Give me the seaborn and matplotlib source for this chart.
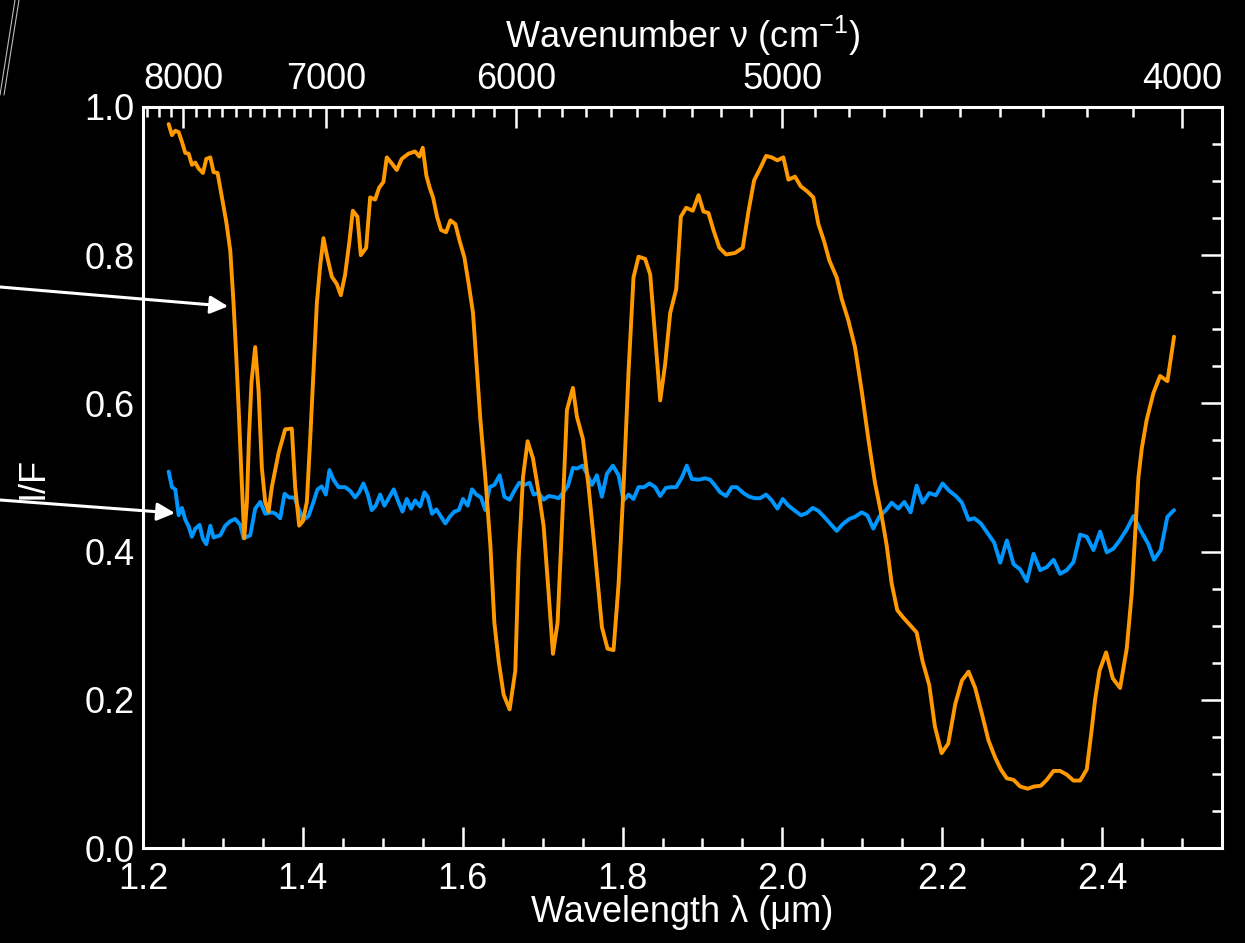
"""
Near-IR reflectance spectra (I/F) with a wavenumber axis on top.
"""

import numpy as np
import matplotlib
matplotlib.use("Agg")
import matplotlib.pyplot as plt
import seaborn as sns
from matplotlib.lines import Line2D

# ---- data ----
orange_wl = [1.2321, 1.2362, 1.2404, 1.2446, 1.2487, 1.2529, 1.2571, 1.2612, 1.2654, 1.2696,
             1.2750, 1.2792, 1.2842, 1.2883, 1.2933, 1.2988, 1.3042, 1.3092, 1.3133, 1.3167,
             1.3200, 1.3233, 1.3267, 1.3300, 1.3325, 1.3358, 1.3404, 1.3446, 1.3487, 1.3529,
             1.3571, 1.3612, 1.3696, 1.3779, 1.3862, 1.3904, 1.3954, 1.4000, 1.4050, 1.4092,
             1.4133, 1.4175, 1.4217, 1.4258, 1.4300, 1.4362, 1.4425, 1.4475, 1.4529, 1.4583,
             1.4625, 1.4683, 1.4725, 1.4792, 1.4842, 1.4904, 1.4954, 1.5008, 1.5050, 1.5112,
             1.5175, 1.5237, 1.5321, 1.5404, 1.5458, 1.5500, 1.5546, 1.5587, 1.5629, 1.5679,
             1.5729, 1.5792, 1.5846, 1.5908, 1.5962, 1.6021, 1.6075, 1.6129, 1.6171, 1.6221,
             1.6283, 1.6346, 1.6396, 1.6450, 1.6512, 1.6587, 1.6658, 1.6700, 1.6754, 1.6812,
             1.6879, 1.6950, 1.7012, 1.7075, 1.7129, 1.7187, 1.7242, 1.7304, 1.7379, 1.7429,
             1.7504, 1.7575, 1.7646, 1.7742, 1.7812, 1.7887, 1.7950, 1.8012, 1.8075, 1.8137,
             1.8200, 1.8283, 1.8346, 1.8408, 1.8471, 1.8533, 1.8596, 1.8671, 1.8729, 1.8796,
             1.8879, 1.8950, 1.9012, 1.9075, 1.9137, 1.9212, 1.9296, 1.9408, 1.9504, 1.9575,
             1.9646, 1.9721, 1.9796, 1.9867, 1.9937, 2.0012, 2.0075, 2.0158, 2.0229, 2.0312,
             2.0387, 2.0450, 2.0521, 2.0587, 2.0679, 2.0742, 2.0825, 2.0908, 2.0992, 2.1075,
             2.1158, 2.1242, 2.1304, 2.1367, 2.1437, 2.1512, 2.1596, 2.1679, 2.1754, 2.1837,
             2.1908, 2.1992, 2.2075, 2.2162, 2.2246, 2.2329, 2.2412, 2.2496, 2.2579, 2.2662,
             2.2733, 2.2808, 2.2892, 2.2975, 2.3067, 2.3150, 2.3233, 2.3308, 2.3392, 2.3475,
             2.3558, 2.3642, 2.3725, 2.3808, 2.3871, 2.3912, 2.3967, 2.4050, 2.4133, 2.4225,
             2.4308, 2.4371, 2.4412, 2.4454, 2.4496, 2.4558, 2.4642, 2.4725, 2.4817, 2.4900]
orange_if = [0.977, 0.962, 0.968, 0.966, 0.953, 0.938, 0.937, 0.922, 0.925, 0.917,
             0.911, 0.930, 0.932, 0.912, 0.911, 0.878, 0.845, 0.806, 0.735, 0.663,
             0.585, 0.500, 0.418, 0.467, 0.552, 0.630, 0.676, 0.617, 0.513, 0.467,
             0.454, 0.487, 0.533, 0.565, 0.566, 0.487, 0.435, 0.441, 0.467, 0.552,
             0.643, 0.735, 0.786, 0.823, 0.800, 0.771, 0.761, 0.746, 0.774, 0.819,
             0.860, 0.852, 0.800, 0.810, 0.878, 0.875, 0.891, 0.899, 0.932, 0.924,
             0.915, 0.930, 0.937, 0.940, 0.933, 0.945, 0.907, 0.891, 0.878, 0.852,
             0.834, 0.831, 0.847, 0.842, 0.819, 0.797, 0.761, 0.722, 0.656, 0.578,
             0.500, 0.409, 0.304, 0.252, 0.207, 0.187, 0.239, 0.389, 0.500, 0.549,
             0.526, 0.480, 0.435, 0.344, 0.262, 0.304, 0.435, 0.591, 0.621, 0.582,
             0.552, 0.487, 0.409, 0.298, 0.269, 0.267, 0.356, 0.487, 0.643, 0.770,
             0.798, 0.795, 0.774, 0.689, 0.604, 0.653, 0.722, 0.754, 0.852, 0.864,
             0.860, 0.881, 0.859, 0.857, 0.834, 0.810, 0.801, 0.803, 0.810, 0.859,
             0.901, 0.917, 0.934, 0.932, 0.928, 0.932, 0.902, 0.906, 0.893, 0.886,
             0.878, 0.842, 0.819, 0.793, 0.770, 0.741, 0.712, 0.676, 0.617, 0.552,
             0.493, 0.448, 0.409, 0.357, 0.321, 0.311, 0.301, 0.291, 0.252, 0.220,
             0.164, 0.128, 0.141, 0.194, 0.226, 0.238, 0.216, 0.181, 0.145, 0.122,
             0.106, 0.094, 0.092, 0.083, 0.080, 0.083, 0.084, 0.092, 0.104, 0.104,
             0.099, 0.091, 0.091, 0.106, 0.161, 0.200, 0.239, 0.264, 0.229, 0.216,
             0.269, 0.344, 0.422, 0.500, 0.539, 0.578, 0.614, 0.637, 0.630, 0.690]

blue_wl = [1.2321, 1.2362, 1.2404, 1.2446, 1.2487, 1.2529, 1.2571, 1.2612, 1.2654, 1.2708,
           1.2750, 1.2792, 1.2842, 1.2883, 1.2967, 1.3029, 1.3092, 1.3154, 1.3217, 1.3258,
           1.3342, 1.3404, 1.3467, 1.3529, 1.3612, 1.3662, 1.3717, 1.3771, 1.3829, 1.3896,
           1.3946, 1.4008, 1.4071, 1.4133, 1.4183, 1.4237, 1.4287, 1.4333, 1.4383, 1.4446,
           1.4529, 1.4592, 1.4654, 1.4704, 1.4758, 1.4812, 1.4862, 1.4912, 1.4967, 1.5021,
           1.5079, 1.5137, 1.5196, 1.5246, 1.5300, 1.5354, 1.5404, 1.5467, 1.5521, 1.5562,
           1.5617, 1.5671, 1.5729, 1.5783, 1.5837, 1.5896, 1.5950, 1.6004, 1.6062, 1.6117,
           1.6171, 1.6229, 1.6283, 1.6337, 1.6396, 1.6462, 1.6521, 1.6587, 1.6646, 1.6708,
           1.6771, 1.6837, 1.6887, 1.6950, 1.7012, 1.7075, 1.7137, 1.7200, 1.7254, 1.7317,
           1.7379, 1.7429, 1.7500, 1.7554, 1.7617, 1.7679, 1.7742, 1.7804, 1.7879, 1.7950,
           1.8012, 1.8075, 1.8137, 1.8200, 1.8271, 1.8337, 1.8408, 1.8471, 1.8542, 1.8604,
           1.8671, 1.8742, 1.8804, 1.8867, 1.8950, 1.9033, 1.9096, 1.9158, 1.9221, 1.9296,
           1.9367, 1.9429, 1.9512, 1.9587, 1.9658, 1.9721, 1.9796, 1.9867, 1.9937, 2.0004,
           2.0075, 2.0158, 2.0233, 2.0304, 2.0379, 2.0450, 2.0521, 2.0596, 2.0679, 2.0754,
           2.0837, 2.0908, 2.0992, 2.1062, 2.1137, 2.1212, 2.1296, 2.1367, 2.1450, 2.1525,
           2.1604, 2.1679, 2.1754, 2.1837, 2.1921, 2.2004, 2.2087, 2.2171, 2.2246, 2.2329,
           2.2400, 2.2483, 2.2567, 2.2650, 2.2725, 2.2808, 2.2892, 2.2975, 2.3058, 2.3142,
           2.3225, 2.3308, 2.3392, 2.3475, 2.3558, 2.3642, 2.3725, 2.3808, 2.3892, 2.3975,
           2.4058, 2.4142, 2.4225, 2.4308, 2.4392, 2.4475, 2.4579, 2.4650, 2.4733, 2.4817,
           2.4900]
blue_if = [0.508, 0.487, 0.484, 0.449, 0.459, 0.443, 0.434, 0.420, 0.431, 0.436,
           0.417, 0.410, 0.435, 0.419, 0.422, 0.435, 0.441, 0.444, 0.436, 0.418,
           0.422, 0.458, 0.467, 0.451, 0.453, 0.451, 0.445, 0.478, 0.473, 0.473,
           0.458, 0.443, 0.448, 0.467, 0.484, 0.488, 0.477, 0.510, 0.497, 0.487,
           0.487, 0.482, 0.473, 0.480, 0.492, 0.477, 0.456, 0.462, 0.477, 0.462,
           0.473, 0.484, 0.467, 0.454, 0.471, 0.458, 0.469, 0.461, 0.480, 0.474,
           0.451, 0.457, 0.447, 0.438, 0.447, 0.454, 0.456, 0.471, 0.462, 0.484,
           0.477, 0.473, 0.456, 0.487, 0.490, 0.503, 0.474, 0.470, 0.482, 0.493,
           0.490, 0.493, 0.477, 0.479, 0.470, 0.475, 0.474, 0.472, 0.479, 0.489,
           0.513, 0.512, 0.516, 0.505, 0.490, 0.503, 0.474, 0.505, 0.516, 0.503,
           0.469, 0.477, 0.471, 0.487, 0.487, 0.492, 0.487, 0.475, 0.486, 0.487,
           0.487, 0.500, 0.516, 0.498, 0.497, 0.499, 0.497, 0.489, 0.480, 0.475,
           0.487, 0.487, 0.479, 0.474, 0.472, 0.472, 0.477, 0.469, 0.458, 0.471,
           0.462, 0.455, 0.449, 0.452, 0.459, 0.455, 0.447, 0.438, 0.428, 0.437,
           0.444, 0.447, 0.453, 0.449, 0.431, 0.447, 0.456, 0.466, 0.458, 0.467,
           0.453, 0.489, 0.466, 0.479, 0.476, 0.492, 0.482, 0.475, 0.466, 0.443,
           0.445, 0.438, 0.425, 0.412, 0.385, 0.415, 0.383, 0.376, 0.360, 0.397,
           0.375, 0.379, 0.389, 0.370, 0.375, 0.386, 0.423, 0.420, 0.402, 0.427,
           0.399, 0.404, 0.416, 0.430, 0.448, 0.430, 0.410, 0.389, 0.402, 0.447,
           0.456]

wavenumber_major = [8000, 7000, 6000, 5000, 4000]
wavenumber_minor = list(range(3900, 8400, 100))

ORANGE = "#ff9900"
BLUE = "#0096ff"

sns.set_theme(style="dark", rc={
    "axes.facecolor": "black",
    "figure.facecolor": "black",
    "axes.edgecolor": "white",
    "axes.grid": False,
    "text.color": "white",
    "xtick.color": "white",
    "ytick.color": "white",
    "axes.labelcolor": "white",
})
plt.rcParams["font.family"] = ["Liberation Sans", "DejaVu Sans"]
plt.rcParams["mathtext.fontset"] = "custom"
plt.rcParams["mathtext.rm"] = "Liberation Sans"
plt.rcParams["mathtext.it"] = "Liberation Sans"

FS = 26

fig = plt.figure(figsize=(12.45, 9.43), dpi=100)
ax = fig.add_axes([143 / 1245, 1 - 848 / 943, (1222 - 143) / 1245, (848 - 107) / 943])

sns.lineplot(x=blue_wl, y=blue_if, ax=ax, color=BLUE, lw=2.8, sort=False, estimator=None)
sns.lineplot(x=orange_wl, y=orange_if, ax=ax, color=ORANGE, lw=2.8, sort=False, estimator=None)

ax.set_xlim(1.2, 2.55)
ax.set_ylim(0.0, 1.0)
ax.set_xticks(np.arange(1.2, 2.41, 0.2))
ax.set_xticks(np.arange(1.25, 2.55, 0.05), minor=True)
ax.set_yticks(np.arange(0.0, 1.01, 0.2))
ax.set_yticks(np.arange(0.05, 1.0, 0.05), minor=True)
ax.xaxis.set_major_formatter(plt.FormatStrFormatter("%.1f"))
ax.yaxis.set_major_formatter(plt.FormatStrFormatter("%.1f"))
ax.tick_params(axis="both", which="both", direction="in", width=1.8,
               top=False, right=True, labelsize=FS)
ax.tick_params(axis="both", which="major", length=15)
ax.tick_params(axis="both", which="minor", length=7.5)
ax.tick_params(axis="x", which="major", pad=10)
ax.tick_params(axis="y", which="major", pad=6)
for sp in ax.spines.values():
    sp.set_color("white")
    sp.set_linewidth(2.2)

ax.set_xlabel("Wavelength λ (μm)", fontsize=FS, labelpad=-1)
ax.set_ylabel("I/F", fontsize=FS, labelpad=24)

# top axis in wavenumber
ax2 = ax.twiny()
ax2.set_xlim(ax.get_xlim())
ax2.set_xticks([1e4 / w for w in wavenumber_major])
ax2.set_xticklabels([str(w) for w in wavenumber_major])
ax2.set_xticks([1e4 / w for w in wavenumber_minor if 1e4 / w <= 2.55], minor=True)
ax2.tick_params(axis="x", which="both", direction="in", width=1.8, labelsize=FS,
                colors="white")
ax2.tick_params(axis="x", which="major", length=15, pad=7)
ax2.tick_params(axis="x", which="minor", length=7.5)
for sp in ax2.spines.values():
    sp.set_visible(False)
ax2.set_xlabel(r"Wavenumber ν (cm$^{\mathregular{-1}}$)", fontsize=FS, labelpad=10)

# pointer arrows coming in from the left edge
arrow = dict(arrowstyle="-|>,head_length=0.9,head_width=0.45", color="white", lw=2.2,
             shrinkA=0, shrinkB=0)
ax.annotate("", xy=(1.3065, 0.731), xycoords="data", xytext=(0, 656),
            textcoords="figure pixels", arrowprops=arrow, annotation_clip=False)
ax.annotate("", xy=(1.240, 0.452), xycoords="data", xytext=(0, 443),
            textcoords="figure pixels", arrowprops=arrow, annotation_clip=False)

# faint stray lines at the top-left corner
for dx in (0, 4):
    fig.add_artist(Line2D([(0 + dx) / 1245, (15 + dx) / 1245], [1 - 95 / 943, 1.0],
                          transform=fig.transFigure, color="#bbbbbb", lw=0.8))

fig.savefig("out.png", dpi=100, facecolor="black")
